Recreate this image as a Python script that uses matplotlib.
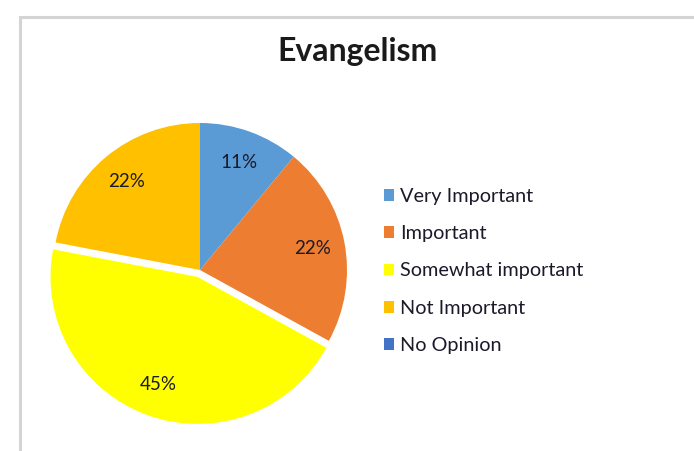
import matplotlib
matplotlib.use("Agg")
import matplotlib.pyplot as plt
import matplotlib.patches as mpatches

# survey answers for "Evangelism"
categories = ["Very Important", "Important", "Somewhat important", "Not Important", "No Opinion"]
percents = [11, 22, 45, 22, 0]
colors = ["#5B9BD5", "#ED7D31", "#FFFF00", "#FFC000", "#4472C4"]
explode = [0, 0, 0.05, 0, 0]

plt.rcParams["font.family"] = ["Lato", "DejaVu Sans"]

W, H = 694, 451
fig = plt.figure(figsize=(W / 100, H / 100), dpi=100)

# light grey chart frame, running off the right and bottom edges
frame = mpatches.Rectangle((20 / W, -0.1), 1.1, 1.1 - 17 / H,
                           transform=fig.transFigure, facecolor="white",
                           edgecolor="#d4d4d4", linewidth=2.2, zorder=-10)
fig.patches.append(frame)

# pie centred at ~(200, 270) px, radius ~147 px
lim = 1.2
side = 2 * lim * 147
ax = fig.add_axes([(200 - side / 2) / W, (H - 270 - side / 2) / H, side / W, side / H])
ax.set_zorder(2)


def fmt(p):
    return f"{p:.0f}%" if p > 0.5 else ""


wedges, texts, autotexts = ax.pie(
    percents, colors=colors, explode=explode, startangle=90, counterclock=False,
    autopct=fmt, pctdistance=0.78,
    textprops=dict(fontsize=13.5, color="#1a1a2a"),
)
ax.set_xlim(-lim, lim)
ax.set_ylim(-lim, lim)
ax.set_aspect("equal")
ax.axis("off")

fig.text(357 / W, 1 - 52 / H, "Evangelism", ha="center", va="center",
         fontsize=23, fontweight="bold", color="#1a1a1a")

handles = [mpatches.Patch(facecolor=c, label=l) for c, l in zip(colors, categories)]
fig.legend(handles=handles, loc="center left", bbox_to_anchor=(366 / W, 1 - 271 / H),
           frameon=False, fontsize=14.3, labelspacing=1.02, handlelength=0.52,
           handleheight=0.52, handletextpad=0.3, labelcolor="#1a1a2a")

fig.savefig("out.png", dpi=100)
